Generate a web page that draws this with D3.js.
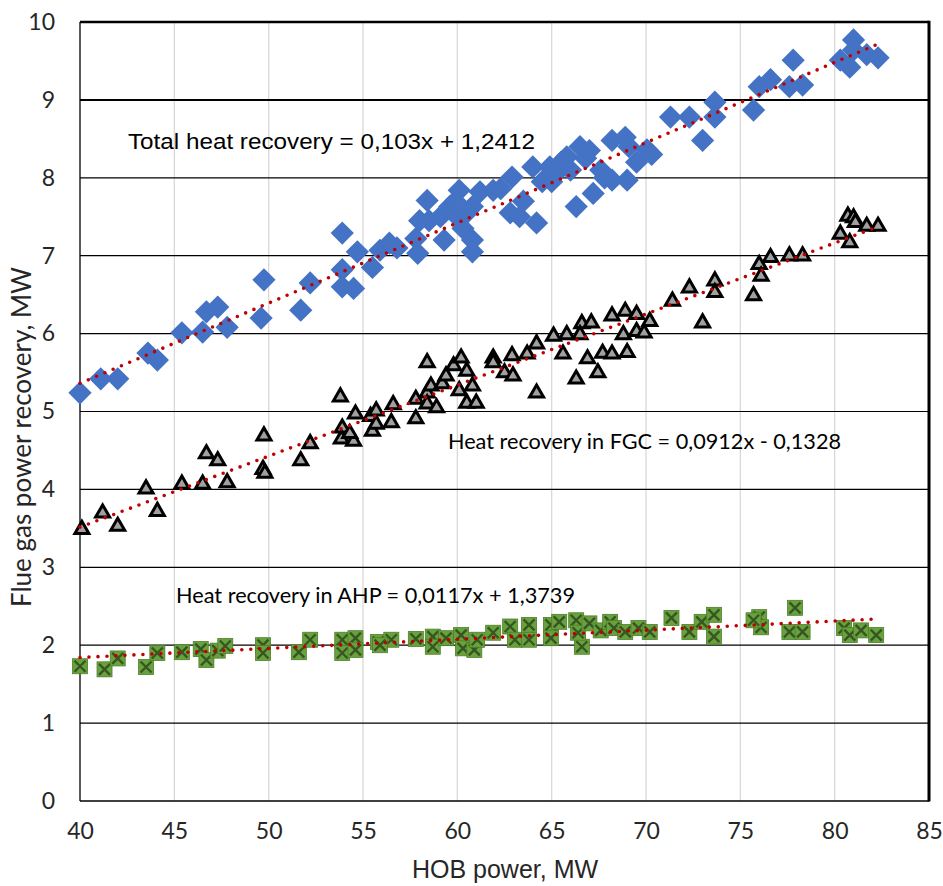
<!DOCTYPE html>
<html>
<head>
<meta charset="utf-8">
<script src="https://cdn.jsdelivr.net/npm/d3@7"></script>
<style>
  body { margin: 0; background: #fff; }
  svg { display: block; }
</style>
</head>
<body>
<svg class="chart"></svg>
<script>
// Axis ticks
var xTicks = [40, 45, 50, 55, 60, 65, 70, 75, 80, 85];
var yTicks = [0, 1, 2, 3, 4, 5, 6, 7, 8, 9, 10];

// Total heat recovery (blue diamonds), [HOB power, MW]
var totalPts = [
    [40.0, 5.24], [41.1, 5.42], [42.0, 5.42], [43.6, 5.75], [44.1, 5.66], [45.4, 6.01],
    [46.5, 6.02], [46.7, 6.28], [47.3, 6.34], [47.8, 6.08], [49.6, 6.20], [49.75, 6.69],
    [51.7, 6.30], [52.2, 6.65], [53.9, 7.29], [54.7, 7.05], [53.9, 6.82], [53.9, 6.60],
    [54.5, 6.58], [55.5, 6.85], [55.9, 7.07], [56.4, 7.16], [56.8, 7.10], [57.8, 7.22],
    [57.9, 7.03], [58.4, 7.71], [58.5, 7.45], [58.0, 7.45], [59.1, 7.50], [59.6, 7.63],
    [60.1, 7.84], [60.0, 7.50], [60.3, 7.35], [60.8, 7.63], [60.8, 7.20], [60.8, 7.05],
    [59.3, 7.20], [59.9, 7.70], [60.5, 7.55], [61.2, 7.82], [61.9, 7.84], [62.3, 7.86],
    [62.8, 7.55], [63.3, 7.50], [63.5, 7.70], [64.2, 7.42], [62.9, 8.01], [64.0, 8.14],
    [64.5, 7.95], [64.9, 8.14], [65.0, 7.95], [65.2, 8.05], [65.5, 8.20], [65.8, 8.27],
    [66.0, 8.10], [66.5, 8.40], [66.8, 8.25], [67.0, 8.35], [66.3, 7.63], [67.2, 7.80],
    [67.8, 8.00], [68.2, 7.97], [68.2, 8.48], [69.1, 8.40], [67.6, 8.10], [68.9, 8.52],
    [69.5, 8.20], [70.05, 8.36], [70.3, 8.30], [71.3, 8.78], [69.0, 7.97], [72.3, 8.78],
    [73.65, 8.97], [73.65, 8.78], [73.0, 8.48], [75.7, 8.87], [76.0, 9.17], [76.6, 9.26],
    [77.8, 9.51], [77.6, 9.17], [78.3, 9.19], [81.0, 9.77], [80.8, 9.42], [80.3, 9.51],
    [81.7, 9.58], [82.3, 9.54], [81.0, 9.64]
];

// Heat recovery in FGC (grey triangles)
var fgcPts = [
    [40.1, 3.50], [41.2, 3.71], [42.0, 3.54], [43.5, 4.02], [44.1, 3.73], [45.4, 4.08],
    [46.5, 4.08], [46.7, 4.47], [47.3, 4.38], [47.8, 4.10], [49.75, 4.70], [49.7, 4.27],
    [49.8, 4.22], [51.7, 4.38], [52.2, 4.60], [53.8, 5.20], [53.9, 4.80], [53.85, 4.66],
    [54.5, 4.63], [54.3, 4.73], [54.6, 4.98], [55.4, 4.95], [55.5, 4.76], [55.7, 4.85],
    [55.7, 5.02], [56.5, 4.87], [56.6, 5.10], [57.8, 4.92], [57.8, 5.17], [58.4, 5.64],
    [58.4, 5.25], [58.4, 5.11], [58.9, 5.06], [58.6, 5.34], [59.2, 5.37], [59.4, 5.47],
    [59.8, 5.60], [60.2, 5.70], [60.1, 5.28], [60.5, 5.53], [60.5, 5.12], [60.8, 5.34],
    [61.0, 5.12], [61.9, 5.70], [61.9, 5.64], [62.5, 5.51], [62.9, 5.73], [62.95, 5.47],
    [63.7, 5.75], [64.2, 5.88], [64.2, 5.25], [65.1, 5.98], [65.6, 5.75], [65.8, 6.00],
    [66.3, 5.43], [66.6, 6.14], [66.5, 6.00], [67.1, 6.15], [66.9, 5.69], [67.45, 5.51],
    [67.7, 5.76], [68.2, 5.75], [69.0, 5.77], [68.2, 6.24], [68.9, 6.30], [69.5, 6.26],
    [68.8, 6.00], [69.5, 6.04], [69.9, 6.02], [70.2, 6.17], [71.4, 6.43], [72.3, 6.60],
    [73.0, 6.15], [73.65, 6.69], [73.65, 6.54], [75.7, 6.50], [76.0, 6.90], [76.1, 6.75],
    [76.6, 6.99], [77.6, 7.01], [78.3, 7.01], [80.3, 7.29], [80.7, 7.52], [81.0, 7.50],
    [81.1, 7.44], [80.8, 7.18], [81.7, 7.39], [82.3, 7.39]
];

// Heat recovery in AHP (green squares)
var ahpPts = [
    [40.0, 1.73], [41.3, 1.69], [42.0, 1.83], [43.5, 1.72], [44.1, 1.90], [45.4, 1.91],
    [46.4, 1.95], [46.7, 1.81], [47.3, 1.93], [47.7, 1.99], [49.7, 2.00], [49.7, 1.90],
    [51.6, 1.91], [52.2, 2.07], [53.9, 2.07], [53.9, 1.90], [54.6, 2.09], [54.6, 1.94],
    [55.8, 2.04], [56.5, 2.07], [55.9, 2.00], [57.8, 2.08], [58.7, 2.11], [58.7, 1.98],
    [59.4, 2.09], [60.2, 2.13], [60.3, 1.96], [60.9, 1.94], [61.05, 2.07], [61.9, 2.16],
    [62.8, 2.24], [63.05, 2.07], [63.8, 2.26], [63.8, 2.07], [64.96, 2.26], [64.96, 2.09],
    [65.4, 2.30], [66.3, 2.32], [66.6, 1.98], [66.4, 2.16], [67.0, 2.28], [67.6, 2.19],
    [68.1, 2.30], [68.3, 2.22], [68.9, 2.17], [69.6, 2.22], [70.2, 2.17], [71.35, 2.35],
    [72.3, 2.17], [72.95, 2.30], [73.6, 2.39], [73.6, 2.11], [76.0, 2.36], [76.1, 2.23],
    [75.7, 2.32], [77.9, 2.48], [77.6, 2.17], [78.3, 2.17], [80.5, 2.22], [80.8, 2.13],
    [81.4, 2.19], [82.2, 2.13]
];

// Linear trend lines: [slope, intercept, xFrom, xTo]
var totalTrend = [0.103, 1.2412, 40, 82.3];
var fgcTrend = [0.0912, -0.1328, 40, 82.3];
var ahpTrend = [0.0117, 1.3739, 40, 82.3];

var labels = [
    "Total heat recovery = 0,103x + 1,2412",
    "Heat recovery in FGC = 0,0912x - 0,1328",
    "Heat recovery in AHP = 0,0117x + 1,3739"
];

var width = 943, height = 886;
var margin = {top: 22, right: 14, bottom: 85, left: 80};

var svg = d3.select(".chart")
    .attr("width", width)
    .attr("height", height);

svg.append("rect").attr("width", width).attr("height", height).attr("fill", "#fff");

var x = d3.scaleLinear().domain([40, 85]).range([margin.left, width - margin.right]);
var y = d3.scaleLinear().domain([0, 10]).range([height - margin.bottom, margin.top]);

// vertical grid (light grey)
svg.append("g").selectAll("line")
    .data(xTicks.slice(1, -1)).enter()
    .append("line")
    .attr("x1", d => x(d)).attr("x2", d => x(d))
    .attr("y1", y(0)).attr("y2", y(10))
    .attr("stroke", "#d9d9d9")
    .attr("stroke-width", 1.3);

// horizontal grid (black)
svg.append("g").selectAll("line")
    .data(yTicks.slice(1)).enter()
    .append("line")
    .attr("x1", x(40)).attr("x2", x(85))
    .attr("y1", d => y(d)).attr("y2", d => y(d))
    .attr("stroke", "#000")
    .attr("stroke-width", d => d == 10 ? 2.5 : (d == 9 ? 2 : 1.2));

// frame: left, bottom, right
svg.append("line").attr("x1", x(40)).attr("x2", x(40)).attr("y1", y(0)).attr("y2", y(10))
    .attr("stroke", "#000").attr("stroke-width", 1.3);
svg.append("line").attr("x1", x(40)).attr("x2", x(85)).attr("y1", y(0)).attr("y2", y(0))
    .attr("stroke", "#000").attr("stroke-width", 1.3);
svg.append("line").attr("x1", x(85)).attr("x2", x(85)).attr("y1", y(0) + 0.6).attr("y2", y(10) - 1.2)
    .attr("stroke", "#000").attr("stroke-width", 3);

// axes (labels only)
var xAxis = svg.append("g")
    .attr("transform", `translate(0, ${y(0)})`)
    .call(d3.axisBottom(x).tickValues(xTicks).tickSize(0).tickPadding(22));
var yAxis = svg.append("g")
    .attr("transform", `translate(${x(40)}, 0)`)
    .call(d3.axisLeft(y).tickValues(yTicks).tickSize(0).tickPadding(25));
[xAxis, yAxis].forEach(function(a) {
    a.select(".domain").remove();
    a.selectAll("text")
        .attr("font-family", "Lato, 'Open Sans', sans-serif")
        .attr("font-size", 23)
        .attr("fill", "#262626");
});

// axis titles
svg.append("text")
    .attr("x", 505).attr("y", 878)
    .attr("text-anchor", "middle")
    .attr("font-family", "'Liberation Sans', Arial, sans-serif")
    .attr("font-size", 25)
    .attr("fill", "#262626")
    .text("HOB power, MW");
svg.append("text")
    .attr("transform", "translate(31, 437) rotate(-90)")
    .attr("text-anchor", "middle")
    .attr("font-family", "Lato, 'Open Sans', sans-serif")
    .attr("font-size", 26)
    .attr("fill", "#262626")
    .text("Flue gas power recovery, MW");

// blue diamonds
var diamond = d3.symbol().type(d3.symbolSquare).size(270);
svg.append("g").selectAll("path")
    .data(totalPts).enter()
    .append("path")
    .attr("d", diamond)
    .attr("transform", d => `translate(${x(d[0])}, ${y(d[1])}) rotate(45)`)
    .attr("fill", "#4472c4");

// grey triangles
var tri = d3.symbol().type(d3.symbolTriangle).size(85);
svg.append("g").selectAll("path")
    .data(fgcPts).enter()
    .append("path")
    .attr("d", tri)
    .attr("transform", d => `translate(${x(d[0])}, ${y(d[1]) + 1})`)
    .attr("fill", "#a0a0a0")
    .attr("stroke", "#000")
    .attr("stroke-width", 3)
    .attr("stroke-linejoin", "miter");

// green squares with a dark cross
var sq = 7.5;
var ahpG = svg.append("g").selectAll("g")
    .data(ahpPts).enter()
    .append("g")
    .attr("transform", d => `translate(${x(d[0])}, ${y(d[1])})`);
ahpG.append("rect")
    .attr("x", -sq).attr("y", -sq)
    .attr("width", 2 * sq).attr("height", 2 * sq)
    .attr("fill", "#68a23c")
    .attr("stroke", "#4d7f2a")
    .attr("stroke-width", 0.8);
ahpG.append("path")
    .attr("d", `M${-sq + 2},${-sq + 2}L${sq - 2},${sq - 2}M${sq - 2},${-sq + 2}L${-sq + 2},${sq - 2}`)
    .attr("stroke", "#375623")
    .attr("stroke-width", 2.4);

// trend lines, red dotted
var line = d3.line().x(d => x(d[0])).y(d => y(d[1]));
[totalTrend, fgcTrend, ahpTrend].forEach(function(t) {
    var pts = [[t[2], t[0] * t[2] + t[1]], [t[3], t[0] * t[3] + t[1]]];
    svg.append("path")
        .attr("d", line(pts))
        .attr("fill", "none")
        .attr("stroke", "#c00000")
        .attr("stroke-width", 3.6)
        .attr("stroke-linecap", "round")
        .attr("stroke-dasharray", "0 9");
});

// equation labels
svg.append("text")
    .attr("x", 128).attr("y", 149)
    .attr("font-family", "'Liberation Sans', Arial, sans-serif")
    .attr("font-size", 22)
    .attr("fill", "#000")
    .attr("textLength", 407)
    .attr("lengthAdjust", "spacingAndGlyphs")
    .text(labels[0]);
svg.append("text")
    .attr("x", 448).attr("y", 449)
    .attr("font-family", "Lato, 'Open Sans', sans-serif")
    .attr("font-size", 21)
    .attr("fill", "#000")
    .attr("textLength", 393)
    .attr("lengthAdjust", "spacingAndGlyphs")
    .text(labels[1]);
svg.append("text")
    .attr("x", 176).attr("y", 603)
    .attr("font-family", "Lato, 'Open Sans', sans-serif")
    .attr("font-size", 21)
    .attr("fill", "#000")
    .attr("textLength", 399)
    .attr("lengthAdjust", "spacingAndGlyphs")
    .text(labels[2]);
</script>
</body>
</html>
